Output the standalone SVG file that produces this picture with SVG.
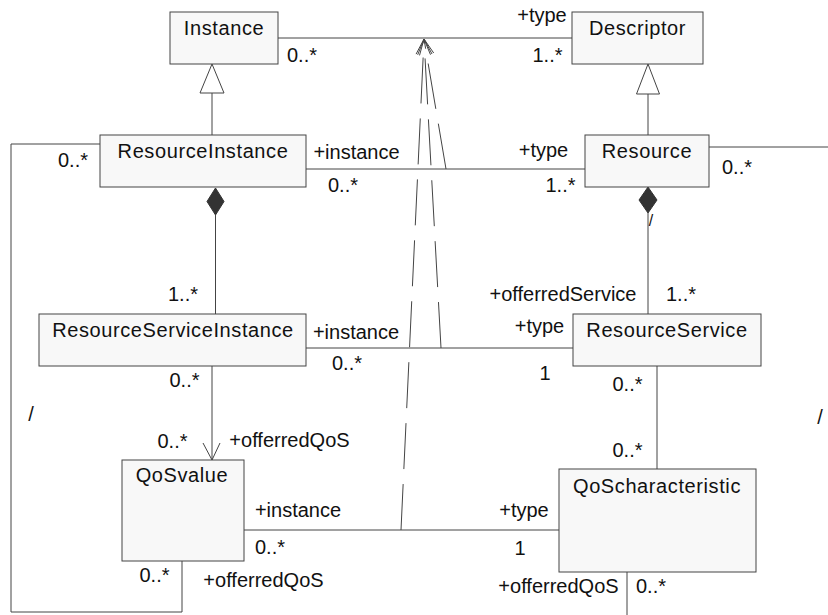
<svg xmlns="http://www.w3.org/2000/svg" width="828" height="615" viewBox="0 0 828 615">
<style>
.box{fill:#f8f8f8;stroke:#444;stroke-width:1}
.ln{fill:none;stroke:#444;stroke-width:1}
.dash{fill:none;stroke:#444;stroke-width:1;stroke-dasharray:46 15}
.tri{fill:#fff;stroke:#444;stroke-width:1}
.dia{fill:#333;stroke:#333;stroke-width:1}
text{font-family:"Liberation Sans",Arial,sans-serif;font-size:20px;fill:#111;text-anchor:middle}
.nm{letter-spacing:0.6px}
</style>
<rect width="828" height="615" fill="#fff"/>
<g id="connectors">
<line class="ln" x1="278" y1="38" x2="572" y2="38"/>
<line class="ln" x1="212" y1="135" x2="212" y2="93"/>
<polygon class="tri" points="212,64 200,93 224,93"/>
<line class="ln" x1="648" y1="135" x2="648" y2="94"/>
<polygon class="tri" points="648,64 636.5,94 659.5,94"/>
<line class="ln" x1="306" y1="169" x2="585" y2="169"/>
<polyline class="ln" points="100,144 11,144 11,612 182,612 182,561"/>
<line class="ln" x1="709" y1="147" x2="828" y2="147"/>
<polygon class="dia" points="215.5,188 224,201.5 215.5,215 207,201.5"/>
<line class="ln" x1="215.5" y1="215" x2="215.5" y2="314"/>
<polygon class="dia" points="648,187 657,200 648,213 639,200"/>
<line class="ln" x1="648" y1="213" x2="648" y2="314"/>
<line class="ln" x1="306" y1="348" x2="573" y2="348"/>
<line class="ln" x1="212" y1="366" x2="212" y2="460"/>
<polyline class="ln" points="203,443 212,460 220,443"/>
<line class="ln" x1="657" y1="366" x2="657" y2="469"/>
<line class="ln" x1="244" y1="530" x2="559" y2="530"/>
<line class="ln" x1="627" y1="572" x2="627" y2="615"/>
<path class="dash" d="M446,169 L424,39"/>
<path class="dash" d="M441,348 L424,39"/>
<path class="dash" d="M401,530 L424,39"/>
<polyline class="ln" points="419.5,55.4 424,39 433.7,53"/>
<polyline class="ln" points="417.7,54.8 424,39 432,54"/>
<polyline class="ln" points="416.1,54.1 424,39 430.5,54.7"/>
</g>
<g id="Instance"><rect class="box" x="170" y="12" width="108" height="52"/><text class="nm" x="224" y="35">Instance</text></g>
<g id="Descriptor"><rect class="box" x="572" y="12" width="131" height="52"/><text class="nm" x="637.5" y="35">Descriptor</text></g>
<g id="ResourceInstance"><rect class="box" x="100" y="135" width="206" height="52"/><text class="nm" x="203" y="158">ResourceInstance</text></g>
<g id="Resource"><rect class="box" x="585" y="135" width="124" height="52"/><text class="nm" x="647" y="158">Resource</text></g>
<g id="ResourceServiceInstance"><rect class="box" x="39" y="314" width="267" height="52"/><text class="nm" x="173" y="337">ResourceServiceInstance</text></g>
<g id="ResourceService"><rect class="box" x="573" y="314" width="188" height="52"/><text class="nm" x="667" y="337">ResourceService</text></g>
<g id="QoSvalue"><rect class="box" x="122" y="460" width="122" height="101"/><text class="nm" x="182" y="482">QoSvalue</text></g>
<g id="QoScharacteristic"><rect class="box" x="559" y="469" width="197" height="103"/><text class="nm" x="657" y="493">QoScharacteristic</text></g>
<g id="labels">
<text x="302" y="62">0..*</text>
<text x="542" y="22">+type</text>
<text x="547.5" y="62">1..*</text>
<text x="73" y="167">0..*</text>
<text x="356.5" y="159">+instance</text>
<text x="343" y="192">0..*</text>
<text x="543.5" y="157">+type</text>
<text x="560.5" y="192">1..*</text>
<text x="737" y="174">0..*</text>
<text x="651" y="226" style="font-size:16px">/</text>
<text x="183" y="301">1..*</text>
<text x="563" y="301">+offerredService</text>
<text x="681" y="301">1..*</text>
<text x="356" y="339">+instance</text>
<text x="347" y="370">0..*</text>
<text x="539.5" y="333">+type</text>
<text x="545" y="380">1</text>
<text x="627.5" y="391">0..*</text>
<text x="184.5" y="387">0..*</text>
<text x="31" y="421">/</text>
<text x="820" y="424">/</text>
<text x="172.5" y="448">0..*</text>
<text x="289.5" y="447">+offerredQoS</text>
<text x="627.5" y="457">0..*</text>
<text x="298" y="517">+instance</text>
<text x="524" y="517">+type</text>
<text x="270" y="554">0..*</text>
<text x="520" y="555">1</text>
<text x="154.5" y="582">0..*</text>
<text x="263.5" y="587">+offerredQoS</text>
<text x="558.5" y="593">+offerredQoS</text>
<text x="651" y="593">0..*</text>
</g>
</svg>
